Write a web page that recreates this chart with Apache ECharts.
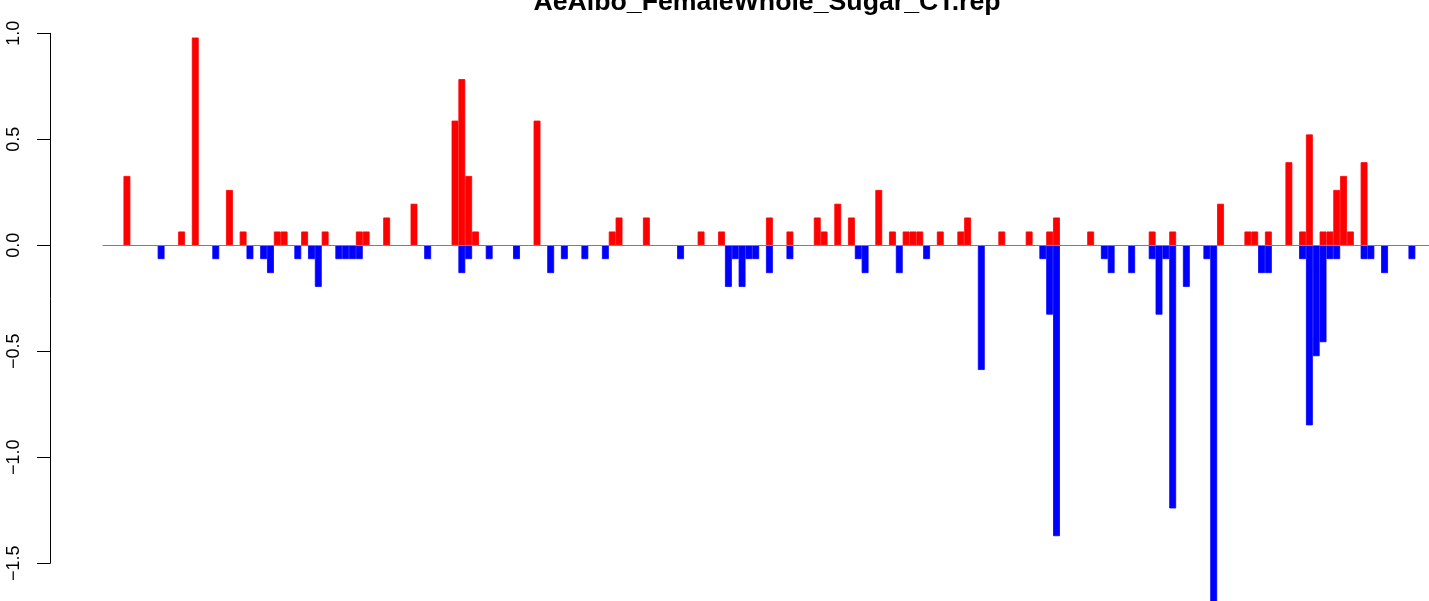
<!DOCTYPE html>
<html>
<head>
<meta charset="utf-8">
<script src="https://cdn.jsdelivr.net/npm/echarts@6/dist/echarts.min.js"></script>
<style>
html,body{margin:0;padding:0;background:#fff;}
#chart{width:1429px;height:601px;}
</style>
</head>
<body>
<div id="chart"></div>
<script>
const chartTitle = "AeAlbo_FemaleWhole_Sugar_CT.rep";
const yTicks = [-1.5, -1.0, -0.5, 0.0, 0.5, 1.0];

// Upward (red) bar values, one per position (194 positions)
const upValues = [
  0,0,0,0.327,0,0,0,0,0,0,
  0,0.065,0,0.98,0,0,0,0,0.261,0,
  0.065,0,0,0,0,0.065,0.065,0,0,0.065,
  0,0,0.065,0,0,0,0,0.065,0.065,0,
  0,0.131,0,0,0,0.196,0,0,0,0,
  0,0.588,0.784,0.327,0.065,0,0,0,0,0,
  0,0,0,0.588,0,0,0,0,0,0,
  0,0,0,0,0.065,0.131,0,0,0,0.131,
  0,0,0,0,0,0,0,0.065,0,0,
  0.065,0,0,0,0,0,0,0.131,0,0,
  0.065,0,0,0,0.131,0.065,0,0.196,0,0.131,
  0,0,0,0.261,0,0.065,0,0.065,0.065,0.065,
  0,0,0.065,0,0,0.065,0.131,0,0,0,
  0,0.065,0,0,0,0.065,0,0,0.065,0.131,
  0,0,0,0,0.065,0,0,0,0,0,
  0,0,0,0.065,0,0,0.065,0,0,0,
  0,0,0,0.196,0,0,0,0.065,0.065,0,
  0.065,0,0,0.392,0,0.065,0.523,0,0.065,0.065,
  0.261,0.327,0.065,0,0.392,0,0,0,0,0,
  0,0,0,0
];

// Downward (blue) bar values, one per position
const downValues = [
  0,0,0,0,0,0,0,0,-0.065,0,
  0,0,0,0,0,0,-0.065,0,0,0,
  0,-0.065,0,-0.065,-0.131,0,0,0,-0.065,0,
  -0.065,-0.196,0,0,-0.065,-0.065,-0.065,-0.065,0,0,
  0,0,0,0,0,0,0,-0.065,0,0,
  0,0,-0.131,-0.065,0,0,-0.065,0,0,0,
  -0.065,0,0,0,0,-0.131,0,-0.065,0,0,
  -0.065,0,0,-0.065,0,0,0,0,0,0,
  0,0,0,0,-0.065,0,0,0,0,0,
  0,-0.196,-0.065,-0.196,-0.065,-0.065,0,-0.131,0,0,
  -0.065,0,0,0,0,0,0,0,0,0,
  -0.065,-0.131,0,0,0,0,-0.131,0,0,0,
  -0.065,0,0,0,0,0,0,0,-0.588,0,
  0,0,0,0,0,0,0,-0.065,-0.327,-1.372,
  0,0,0,0,0,0,-0.065,-0.131,0,0,
  -0.131,0,0,-0.065,-0.327,-0.065,-1.241,0,-0.196,0,
  0,-0.065,-1.699,0,0,0,0,0,0,-0.131,
  -0.131,0,0,0,0,-0.065,-0.849,-0.523,-0.457,-0.065,
  -0.065,0,0,0,-0.065,-0.065,0,-0.131,0,0,
  0,-0.065,0,0
];

const categories = upValues.map((_, i) => String(i + 1));
const FONT = '"Liberation Sans", Arial, Helvetica, sans-serif';

const chart = echarts.init(document.getElementById('chart'), null, {renderer: 'canvas'});
chart.setOption({
  animation: false,
  backgroundColor: '#ffffff',
  graphic: [{
    type: 'text',
    x: 0, y: 0,
    style: {
      text: chartTitle,
      x: 767, y: 2.3,
      textAlign: 'center',
      textVerticalAlign: 'middle',
      fontFamily: FONT,
      fontSize: 26.7,
      fontWeight: 'bold',
      fill: '#000'
    }
  }],
  grid: {left: 103, top: 33.3, width: 1329.1, height: 530, containLabel: false},
  xAxis: {
    type: 'category',
    data: categories,
    boundaryGap: true,
    z: 5,
    axisLine: {show: true, onZero: true, lineStyle: {color: '#7f7f7f', width: 1}},
    axisTick: {show: false},
    axisLabel: {show: false},
    splitLine: {show: false}
  },
  yAxis: {
    type: 'value',
    min: yTicks[0],
    max: yTicks[yTicks.length - 1],
    interval: 0.5,
    offset: 53,
    axisLine: {show: true, lineStyle: {color: '#000', width: 1}},
    axisTick: {show: true, length: 13, inside: false, lineStyle: {color: '#000', width: 1}},
    splitLine: {show: false},
    axisLabel: {
      rotate: 90,
      margin: 27,
      fontFamily: FONT,
      fontSize: 18,
      color: '#000',
      formatter: v => (v < 0 ? '\u2212' : '') + Math.abs(v).toFixed(1)
    }
  },
  series: [
    {
      type: 'bar',
      name: 'up',
      data: upValues.map(v => v === 0 ? '-' : v),
      barWidth: '100%',
      barGap: '-100%',
      itemStyle: {color: '#ff0000', borderColor: '#ff0000', borderWidth: 0.8},
      clip: false
    },
    {
      type: 'bar',
      name: 'down',
      data: downValues.map(v => v === 0 ? '-' : v),
      barWidth: '100%',
      barGap: '-100%',
      itemStyle: {color: '#0000ff', borderColor: '#0000ff', borderWidth: 0.8},
      clip: false
    }
  ]
});
</script>
</body>
</html>
